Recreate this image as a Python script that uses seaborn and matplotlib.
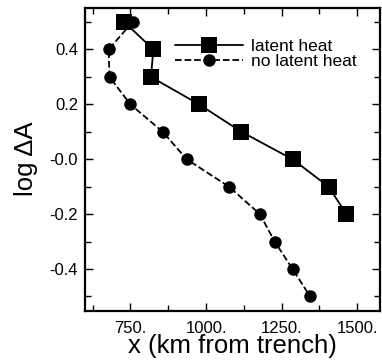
import matplotlib
matplotlib.use("Agg")
import matplotlib.pyplot as plt
import seaborn as sns
import pandas as pd
from matplotlib.ticker import MultipleLocator

sns.set_theme(style="ticks")
plt.rcParams['font.family'] = ['Liberation Sans', 'DejaVu Sans']
plt.rcParams['text.color'] = 'black'
plt.rcParams['axes.labelcolor'] = 'black'

# data
latent_x = [730, 826, 818, 977, 1117, 1286, 1405, 1464]
latent_y = [0.5, 0.4, 0.3, 0.2, 0.1, 0.0, -0.1, -0.2]
nolatent_x = [757, 678, 681, 750, 857, 936, 1076, 1178, 1227, 1286, 1344]
nolatent_y = [0.5, 0.4, 0.3, 0.2, 0.1, 0.0, -0.1, -0.2, -0.3, -0.4, -0.5]
xticks = [750, 1000, 1250, 1500]
xticklabels = ["750.", "1000.", "1250.", "1500."]
yticks = [-0.4, -0.2, 0.0, 0.2, 0.4]
yticklabels = ["-0.4", "-0.2", "-0.0", "0.2", "0.4"]

df_l = pd.DataFrame({"x": latent_x, "y": latent_y})
df_n = pd.DataFrame({"x": nolatent_x, "y": nolatent_y})

fig = plt.figure(figsize=(3.82, 3.63), dpi=100)
ax = fig.add_axes([85/382, 1-311/363, (380-85)/382, (311-7.5)/363])

sns.lineplot(data=df_l, x="x", y="y", sort=False, ax=ax, color="black",
             marker="s", markersize=11, linewidth=1.3, markeredgewidth=0,
             label="latent heat")
sns.lineplot(data=df_n, x="x", y="y", sort=False, ax=ax, color="black",
             marker="o", markersize=9, linewidth=1.3, markeredgewidth=0,
             linestyle="--", dashes=(3, 2.5), label="no latent heat")

ax.set_xlim(600, 1575)
ax.set_ylim(-0.553, 0.553)
ax.set_xticks(xticks)
ax.set_xticklabels(xticklabels)
ax.set_yticks(yticks)
ax.set_yticklabels(yticklabels)
ax.xaxis.set_minor_locator(MultipleLocator(125))
ax.yaxis.set_minor_locator(MultipleLocator(0.1))
ax.tick_params(which="both", direction="in", top=True, right=True,
               colors="black", labelcolor="black", labelsize=12, width=1)
ax.tick_params(which="major", length=6)
ax.tick_params(which="minor", length=4)
ax.tick_params(axis="x", pad=7)
ax.tick_params(axis="y", pad=5)
for s in ax.spines.values():
    s.set_linewidth(1.6)
    s.set_color("black")

ax.set_xlabel("x (km from trench)", fontsize=18.5, labelpad=-1, color="black")
ax.set_ylabel("log ΔA", fontsize=18.5, labelpad=8, color="black")

leg = ax.legend(loc="upper left", bbox_to_anchor=(0.275, 0.925), frameon=False,
                fontsize=12.5, handlelength=3.9, handletextpad=0.5,
                labelspacing=0.0, borderpad=0.0)

fig.savefig("out.png", dpi=100)
